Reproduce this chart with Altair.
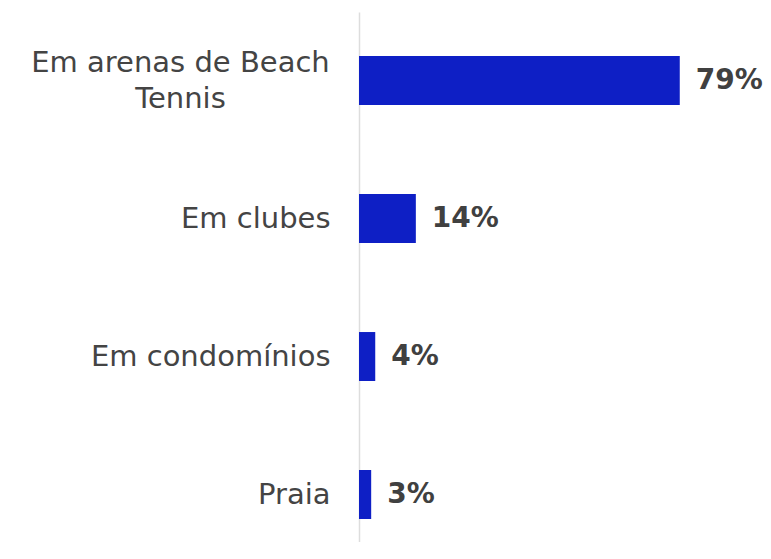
import altair as alt
import pandas as pd

categories = ["Em arenas de Beach Tennis", "Em clubes", "Em condomínios", "Praia"]
values = [79, 14, 4, 3]
value_labels = ["79%", "14%", "4%", "3%"]

df = pd.DataFrame({"cat": categories, "val": values, "lbl": value_labels})

FONT = "DejaVu Sans"
H = 530
TEST = "datum.label == 'Em arenas de Beach Tennis'"

y = alt.Y(
    "cat:N",
    sort=categories,
    title=None,
    scale=alt.Scale(paddingInner=0.645, paddingOuter=0.243, align=0.657),
    axis=alt.Axis(
        ticks=False,
        domain=True,
        domainColor="#dddddd",
        domainWidth=1.5,
        labelPadding={"condition": {"test": TEST, "value": 179}, "value": 29},
        labelAlign={"condition": {"test": TEST, "value": "center"}, "value": "right"},
        labelFont=FONT,
        labelFontSize=29,
        labelColor="#444444",
        labelLimit=400,
        labelLineHeight=36,
        labelOffset={"condition": {"test": TEST, "value": -18}, "value": 0},
        labelExpr=TEST + " ? ['Em arenas de Beach', 'Tennis'] : datum.label",
    ),
)
x = alt.X(
    "val:Q",
    title=None,
    scale=alt.Scale(domain=[0, 99.5], nice=False),
    axis=None,
)

base = alt.Chart(df)
bars = base.mark_bar(color="#0E1FC5").encode(x=x, y=y)
text = base.mark_text(
    align="left", baseline="middle", dx=16, font=FONT, fontSize=28,
    fontWeight="bold", color="#404040"
).encode(x=x, y=y, text="lbl:N")

chart = (bars + text).properties(
    width=404,
    height=H,
    background="white",
    autosize=alt.AutoSizeParams(type="none"),
    padding={"left": 351, "top": 4, "right": 0, "bottom": 0},
).configure_view(stroke=None)

chart.save("out.html", embed_options={"renderer": "svg", "actions": False})
